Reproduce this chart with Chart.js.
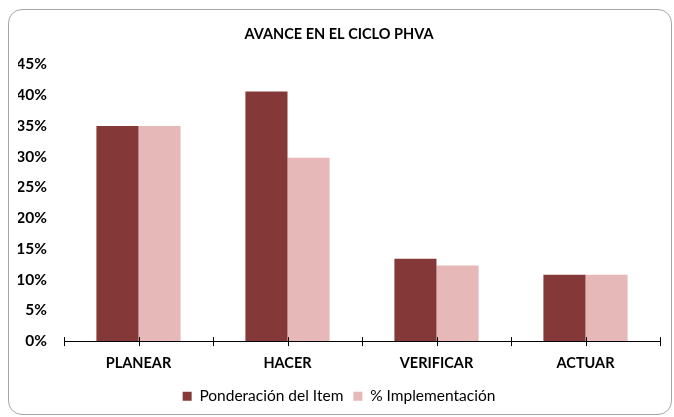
<!DOCTYPE html>
<html>
<head>
<meta charset="utf-8">
<script src="https://cdn.jsdelivr.net/npm/chart.js@4"></script>
<style>
body { margin:0; background:#fff; }
.marco { position:absolute; left:8px; top:9px; width:662px; height:404px; border:1px solid #a6a6a6; border-radius:14px; background:#fff; }
canvas { display:block; }
</style>
</head>
<body>
<div class="marco"><canvas id="grafico" width="662" height="404"></canvas></div>
<script>
var categorias = ['PLANEAR', 'HACER', 'VERIFICAR', 'ACTUAR'];
var ponderacion = [0.35, 0.406, 0.134, 0.108];
var implementacion = [0.35, 0.298, 0.123, 0.108];
var nombresSeries = ['Ponderación del Item', '% Implementación'];

// marcas del eje x: en los limites y en el centro de cada categoria
var marcasEje = {
  id: 'marcasEje',
  afterDraw: function (chart) {
    var x = chart.scales.x;
    var ctx = chart.ctx;
    var y0 = x.top;
    var paso = x.width / categorias.length;
    ctx.save();
    ctx.strokeStyle = '#000';
    ctx.lineWidth = 1;
    ctx.beginPath();
    for (var i = 0; i <= categorias.length * 2; i++) {
      var px = Math.round(x.left + i * paso / 2) + 0.5;
      ctx.moveTo(px, y0 - 4);
      ctx.lineTo(px, y0 + 5);
    }
    ctx.stroke();
    ctx.restore();
  }
};

var ctx = document.getElementById('grafico');
var grafico = new Chart(ctx, {
  type: 'bar',
  data: {
    labels: categorias,
    datasets: [
      { label: nombresSeries[0], data: ponderacion, backgroundColor: '#853838' },
      { label: nombresSeries[1], data: implementacion, backgroundColor: '#e6b8b7' }
    ]
  },
  options: {
    responsive: false,
    animation: false,
    categoryPercentage: 0.565,
    barPercentage: 1,
    layout: { padding: { left: 9, right: 11, top: 10, bottom: 0 } },
    plugins: {
      title: {
        display: true,
        text: 'AVANCE EN EL CICLO PHVA',
        color: '#000',
        font: { family: 'Lato', size: 14.5, weight: 'bold' },
        padding: { top: 6, bottom: 21 }
      },
      legend: {
        position: 'bottom',
        labels: {
          color: '#000',
          font: { family: 'Lato', size: 15.5 },
          boxWidth: 9,
          boxHeight: 9,
          padding: 10
        }
      },
      tooltip: { enabled: false }
    },
    scales: {
      x: {
        grid: { display: false },
        border: { display: true, color: '#000', width: 1 },
        ticks: { color: '#000', font: { family: 'Lato', size: 14.5, weight: 'bold' }, padding: 6 }
      },
      y: {
        min: 0,
        max: 0.45,
        grid: { display: false, drawTicks: false },
        border: { display: false },
        ticks: {
          stepSize: 0.05,
          color: '#000',
          padding: 17,
          font: { family: 'Lato', size: 15.5, weight: 'bold' },
          callback: function (v) { return Math.round(v * 100) + '%'; }
        },
        afterFit: function (eje) { eje.width = 46; }
      }
    }
  },
  plugins: [marcasEje]
});
</script>
</body>
</html>
